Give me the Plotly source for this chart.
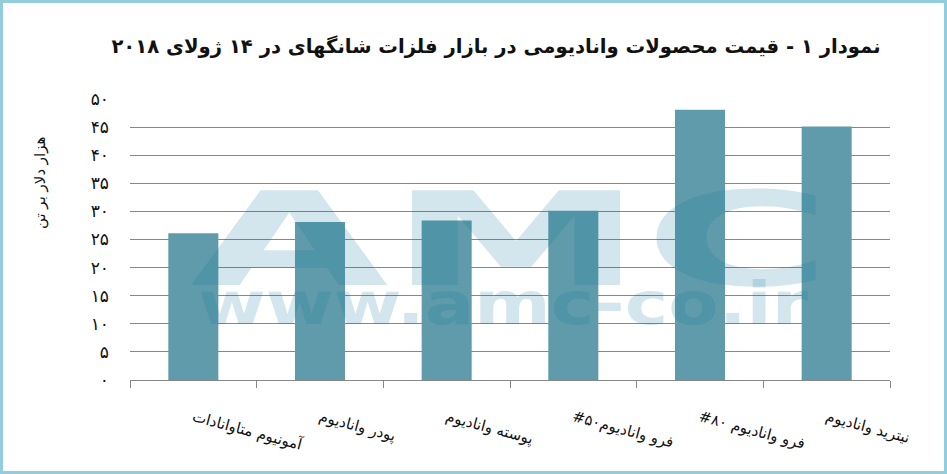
import base64
import plotly.graph_objects as go

# دسته‌ها و قیمت‌ها (هزار دلار بر تن)
categories = [
    'آمونیوم متاوانادات',
    'پودر وانادیوم',
    'پوسته وانادیوم',
    'فرو وانادیوم۵۰#',
    'فرو وانادیوم ۸۰#',
    'نیترید وانادیوم',
]
prices = [26.1, 28.1, 28.4, 30.1, 48.1, 45.1]

y_ticks = [0, 5, 10, 15, 20, 25, 30, 35, 40, 45, 50]
y_tick_labels = ['۰', '۵', '۱۰', '۱۵', '۲۰', '۲۵', '۳۰', '۳۵', '۴۰', '۴۵', '۵۰']

title = 'نمودار ۱ - قیمت محصولات وانادیومی در بازار فلزات شانگهای در ۱۴ ژولای ۲۰۱۸'
y_title = 'هزار دلار بر تن'

W, H = 947, 474
L, R, T, B = 130, 57, 99, 94
pw, ph = W - L - R, H - T - B


def px_x(x):
    return (x - L) / pw


def px_y(y):
    return (H - B - y) / ph


def rtl(s):
    # force right-to-left layout inside svg text
    return '\u202b' + s + '\u202c'


# watermark (AMC logo) as a stretched svg
svg = (
    '<svg xmlns="http://www.w3.org/2000/svg" width="650" height="150" viewBox="0 0 650 150">'
    '<g fill="#12769a" fill-opacity="0.18" font-family="DejaVu Sans, Arial" font-weight="bold">'
    '<text x="5" y="100" font-size="130" textLength="642" lengthAdjust="spacingAndGlyphs">AMC</text>'
    '<text x="13" y="139" font-size="58" textLength="610" lengthAdjust="spacingAndGlyphs">www.amc-co.ir</text>'
    '</g></svg>'
)
svg_src = 'data:image/svg+xml;base64,' + base64.b64encode(svg.encode()).decode()

fig = go.Figure()
fig.add_trace(go.Bar(
    x=[rtl(c) for c in categories],
    y=prices,
    marker=dict(color='#5f9baa', line=dict(width=0)),
))

fig.update_layout(
    width=W,
    height=H,
    margin=dict(l=L, r=R, t=T, b=B),
    paper_bgcolor='white',
    plot_bgcolor='white',
    bargap=0.605,
    showlegend=False,
    font=dict(family='DejaVu Sans', color='#1a1a1a'),
    title=dict(
        text='<b>' + rtl(title) + '</b>',
        x=496 / W, xanchor='center',
        y=1 - 46 / H, yanchor='middle',
        font=dict(size=19.6, color='#111111'),
    ),
    xaxis=dict(
        type='category',
        showline=True, linecolor='#878787', linewidth=1,
        ticks='outside', tickson='boundaries', ticklen=7, tickcolor='#878787',
        tickangle=15,
        ticklabelstandoff=22,
        tickfont=dict(size=15, color='#111111'),
        showgrid=False,
    ),
    yaxis=dict(
        range=[0, 50],
        tickvals=y_ticks,
        ticktext=y_tick_labels,
        showgrid=True, gridcolor='#878787', gridwidth=1,
        zeroline=False, showline=False,
        ticklabelstandoff=20,
        tickfont=dict(size=17, color='#111111'),
    ),
    annotations=[dict(
        text=rtl(y_title), textangle=-90,
        xref='paper', yref='paper',
        x=px_x(40), y=px_y(183),
        xanchor='center', yanchor='middle',
        showarrow=False,
        font=dict(size=15, color='#111111'),
    )],
    images=[dict(
        source=svg_src,
        xref='paper', yref='paper',
        x=px_x(185), y=px_y(185),
        sizex=650 / pw, sizey=150 / ph,
        xanchor='left', yanchor='top',
        sizing='stretch', layer='above',
    )],
    shapes=[dict(
        type='rect', xref='paper', yref='paper',
        x0=px_x(1.5), x1=px_x(945.5), y0=px_y(472.5), y1=px_y(1.5),
        line=dict(color='#92cddc', width=3),
    )],
)

fig.write_html('out.html', config={'displayModeBar': False},
               post_script="document.body.style.margin='0';")
